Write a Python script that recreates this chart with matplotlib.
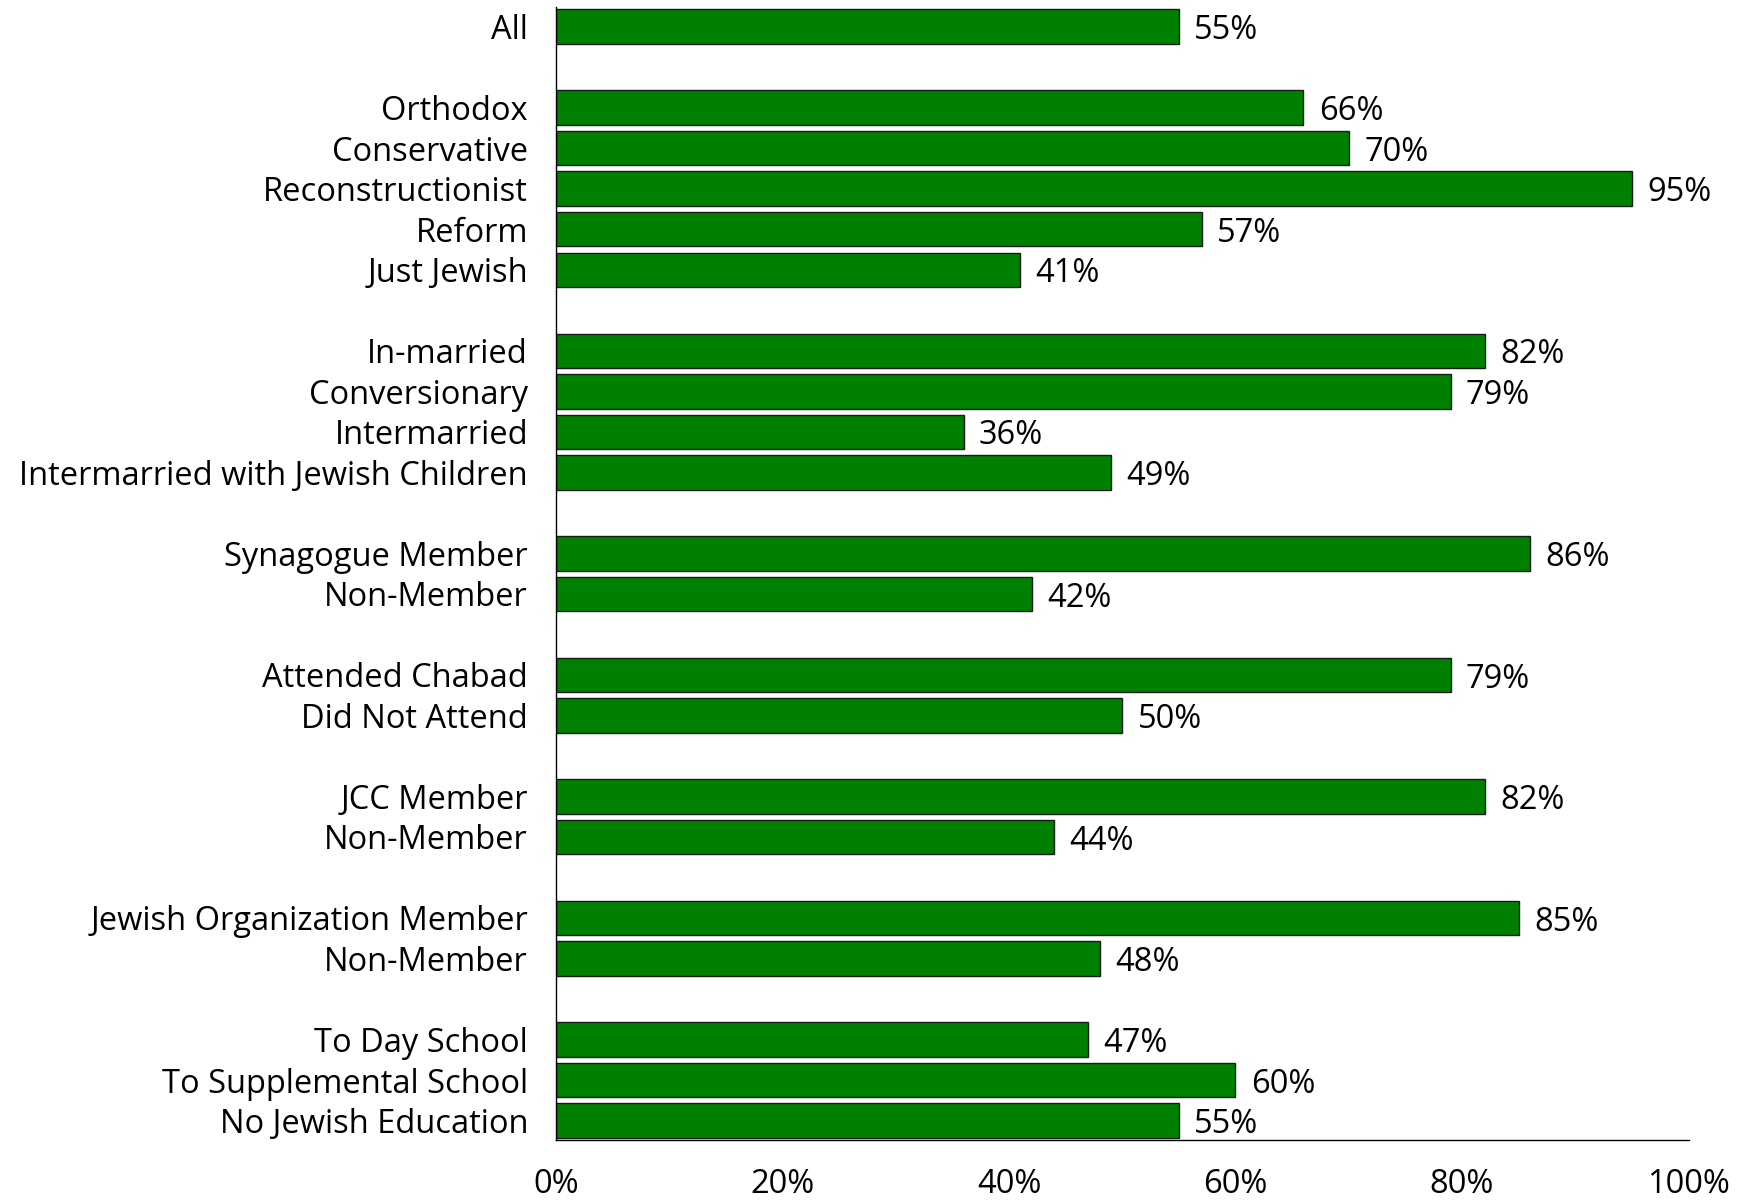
import numpy as np
import matplotlib.pyplot as plt

plt.rcParams['font.family'] = ['Open Sans', 'DejaVu Sans']

labels = ["All",
          "Orthodox", "Conservative", "Reconstructionist", "Reform", "Just Jewish",
          "In-married", "Conversionary", "Intermarried", "Intermarried with Jewish Children",
          "Synagogue Member", "Non-Member",
          "Attended Chabad", "Did Not Attend",
          "JCC Member", "Non-Member",
          "Jewish Organization Member", "Non-Member",
          "To Day School", "To Supplemental School", "No Jewish Education"]
values = [55,
          66, 70, 95, 57, 41,
          82, 79, 36, 49,
          86, 42,
          79, 50,
          82, 44,
          85, 48,
          47, 60, 55]
# row positions, one empty row between groups
rows = [0, 2, 3, 4, 5, 6, 8, 9, 10, 11, 13, 14, 16, 17, 19, 20, 22, 23, 25, 26, 27]
xticks = [0, 20, 40, 60, 80, 100]

fig = plt.figure(figsize=(17.48, 12.02), dpi=100)
ax = fig.add_axes([0.318, 0.0516, 0.648, 0.9424])

ax.barh(rows, values, height=0.85, color="#008000", edgecolor="#1a1a1a", linewidth=1)
for r, v in zip(rows, values):
    ax.annotate(f"{v}%", (v, r), xytext=(11, -3), textcoords="offset points",
                ha="left", va="center", fontsize=23.5)

ax.set_yticks(rows)
ax.set_yticklabels(labels, fontsize=23.5)
ax.set_ylim(27.48, -0.48)
ax.set_xlim(0, 100)
ax.set_xticks(xticks)
ax.set_xticklabels([f"{t}%" for t in xticks], fontsize=23.5)
ax.tick_params(axis="y", length=0, pad=20)
ax.tick_params(axis="x", length=0, pad=20)
for s in ["top", "right"]:
    ax.spines[s].set_visible(False)
ax.spines["left"].set_linewidth(1)
ax.spines["bottom"].set_linewidth(1)

fig.savefig("out.png", dpi=100)
